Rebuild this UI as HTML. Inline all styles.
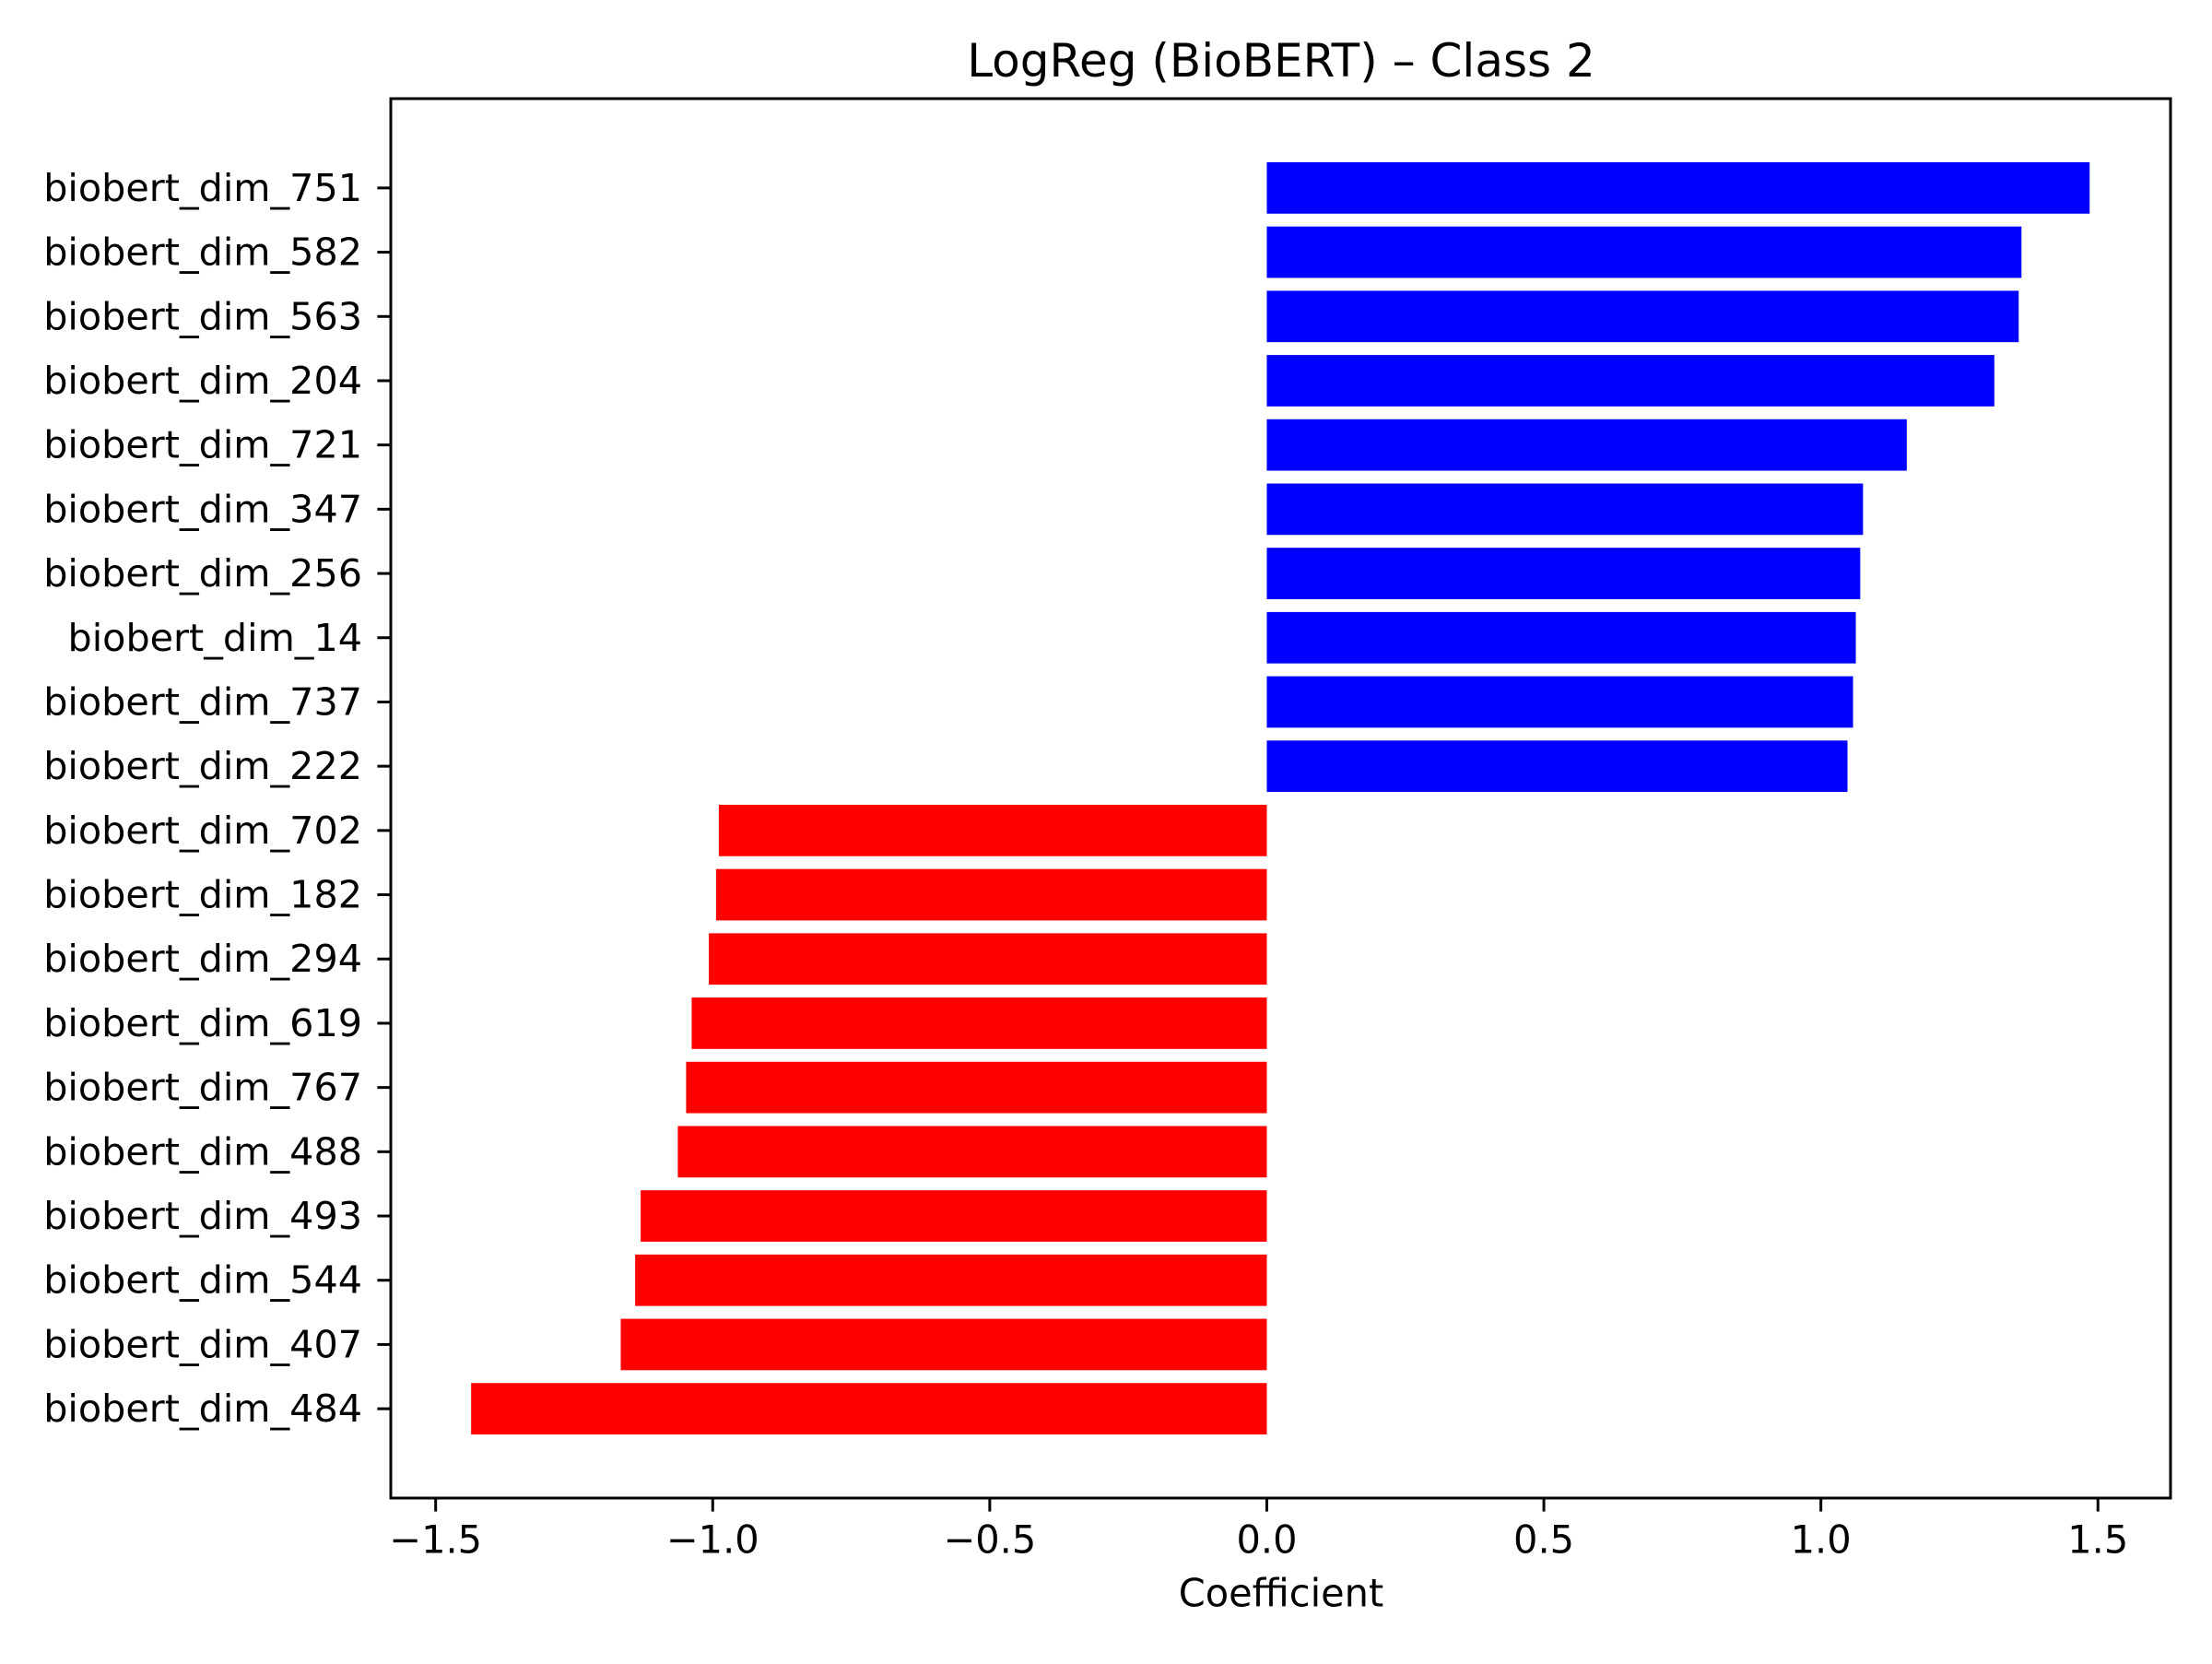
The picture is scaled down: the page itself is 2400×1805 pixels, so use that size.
<!DOCTYPE html>
<html><head><meta charset="utf-8"><style>
html,body{margin:0;padding:0;background:#fff;}
svg text{font-family:"DejaVu Sans","Liberation Sans",sans-serif;fill:#000;}
</style></head>
<body>
<svg id="chart" width="2400" height="1800" viewBox="0 0 2400 1800" xmlns="http://www.w3.org/2000/svg">
<rect width="2400" height="1800" fill="#fff"/>
<text x="1390" y="66" font-size="50" text-anchor="middle" dominant-baseline="central">LogReg (BioBERT) – Class 2</text>
<g id="bars"></g>
<g id="yticks"></g>
<g id="xticks"></g>
<rect x="424" y="107" width="1931" height="1518" fill="none" stroke="#000" stroke-width="3"/>
<text x="1390" y="1728" font-size="41.5" text-anchor="middle" dominant-baseline="central">Coefficient</text>
</svg>
<script>
const features = ["biobert_dim_751","biobert_dim_582","biobert_dim_563","biobert_dim_204","biobert_dim_721","biobert_dim_347","biobert_dim_256","biobert_dim_14","biobert_dim_737","biobert_dim_222","biobert_dim_702","biobert_dim_182","biobert_dim_294","biobert_dim_619","biobert_dim_767","biobert_dim_488","biobert_dim_493","biobert_dim_544","biobert_dim_407","biobert_dim_484"];
const coefficients = [1.485,1.362,1.357,1.313,1.155,1.076,1.071,1.063,1.058,1.048,-0.989,-0.994,-1.007,-1.038,-1.048,-1.063,-1.130,-1.140,-1.166,-1.436];
const xTickValues = [-1.5,-1.0,-0.5,0.0,0.5,1.0,1.5];
const xTickLabels = ["−1.5","−1.0","−0.5","0.0","0.5","1.0","1.5"];

const NS = "http://www.w3.org/2000/svg";
const L = 424, R = 2355, T = 107, B = 1625;
const xmin = -1.581, xmax = 1.631;
const x = v => L + (v - xmin) / (xmax - xmin) * (R - L);
const n = features.length;
const ymin = -0.4 - 0.99, ymax = (n - 1) + 0.4 + 0.99;
const y = i => T + (i - ymin) / (ymax - ymin) * (B - T);
const bh = 0.8 * (B - T) / (ymax - ymin);

const gb = document.getElementById('bars');
const gy = document.getElementById('yticks');
const gx = document.getElementById('xticks');
function mk(tag, attrs){const e=document.createElementNS(NS,tag);for(const k in attrs)e.setAttribute(k,attrs[k]);return e;}

features.forEach((f, i) => {
  const v = coefficients[i];
  const cy = y(i);
  const r = mk('rect', {x: Math.min(x(0), x(v)), y: cy - bh/2, width: Math.abs(x(v) - x(0)), height: bh, fill: v >= 0 ? '#0000ff' : '#ff0000'});
  
  
  gb.appendChild(r);
  const t = mk('line', {x1: L - 14.6, x2: L, y1: cy, y2: cy, stroke: '#000', 'stroke-width': 3});
  
  
  gy.appendChild(t);
  const tx = mk('text', {x: L - 31, y: cy, 'font-size': 41.3, 'text-anchor': 'end', 'dominant-baseline': 'central'});
  tx.textContent = f;
  
  
  gy.appendChild(tx);
});

xTickValues.forEach((v, i) => {
  const px = x(v);
  const t = mk('line', {x1: px, x2: px, y1: B, y2: B + 14.6, stroke: '#000', 'stroke-width': 3});
  
  
  gx.appendChild(t);
  const tx = mk('text', {x: px, y: 1670, 'font-size': 41.5, 'text-anchor': 'middle', 'dominant-baseline': 'central'});
  tx.textContent = xTickLabels[i];
  
  
  gx.appendChild(tx);
});
</script>
</body></html>
